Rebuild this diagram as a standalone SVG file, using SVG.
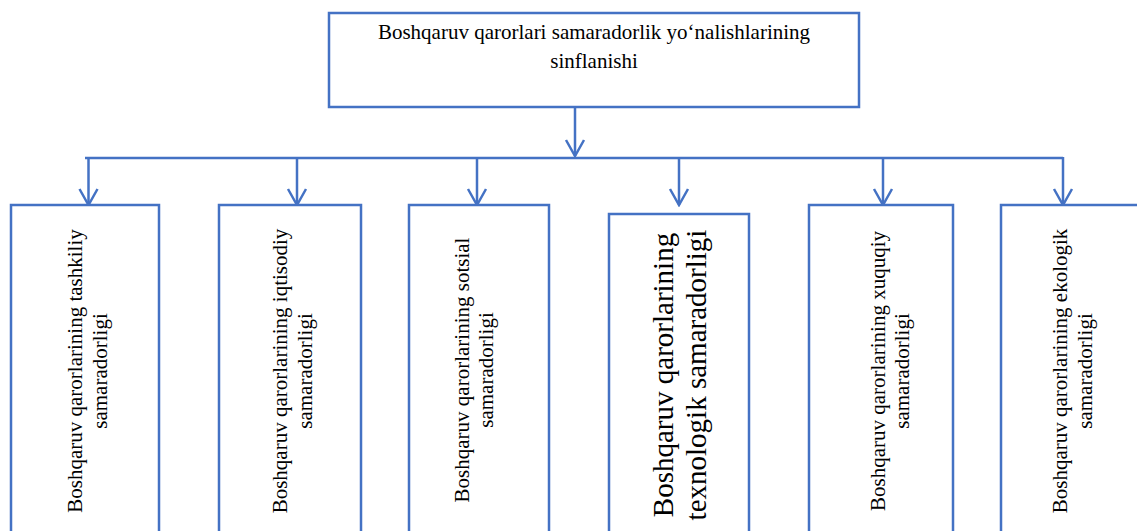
<svg xmlns="http://www.w3.org/2000/svg" width="1137" height="531" viewBox="0 0 1137 531">
<style>
.box{fill:#fff;stroke:#4472C4;stroke-width:2.5}
.ln{fill:none;stroke:#4472C4;stroke-width:2.5}
.t{font-family:"Liberation Serif","Times New Roman",serif;fill:#000;text-anchor:middle}
.s{font-size:21px}
.b{font-size:29px}
</style>
<defs>
<marker id="arr" viewBox="-18 -11 20 22" refX="0" refY="0" markerWidth="20" markerHeight="22" markerUnits="userSpaceOnUse" orient="auto">
<path d="M-16,-9 L0,0 L-16,9" fill="none" stroke="#4472C4" stroke-width="2.5"/>
</marker>
</defs>
<rect width="1137" height="531" fill="#fff"/>
<g id="root">
<rect class="box" x="329" y="13" width="530" height="94"/>
<text class="t s" x="594" y="39">Boshqaruv qarorlari samaradorlik yo‘nalishlarining</text>
<text class="t s" x="594" y="68">sinflanishi</text>
</g>
<g id="connectors">
<line class="ln" x1="575" y1="107" x2="575" y2="156" marker-end="url(#arr)"/>
<polyline class="ln" points="85,158 1063,158"/>
<line class="ln" x1="88.5" y1="158" x2="88.5" y2="205" marker-end="url(#arr)"/>
<line class="ln" x1="297" y1="158" x2="297" y2="205" marker-end="url(#arr)"/>
<line class="ln" x1="477" y1="158" x2="477" y2="205" marker-end="url(#arr)"/>
<line class="ln" x1="679" y1="158" x2="679" y2="205" marker-end="url(#arr)"/>
<line class="ln" x1="883" y1="158" x2="883" y2="205" marker-end="url(#arr)"/>
<line class="ln" x1="1063" y1="157" x2="1063" y2="205" marker-end="url(#arr)"/>
</g>
<g id="n1">
<rect class="box" x="11" y="205" width="148" height="340"/>
<g transform="translate(82,371) rotate(-90)">
<text class="t s" x="0" y="0">Boshqaruv qarorlarining tashkiliy</text>
<text class="t s" x="0" y="25">samaradorligi</text>
</g>
</g>
<g id="n2">
<rect class="box" x="219" y="205" width="142" height="340"/>
<g transform="translate(287,371) rotate(-90)">
<text class="t s" x="0" y="0">Boshqaruv qarorlarining iqtisodiy</text>
<text class="t s" x="0" y="25">samaradorligi</text>
</g>
</g>
<g id="n3">
<rect class="box" x="409" y="205" width="140" height="340"/>
<g transform="translate(469,370) rotate(-90)">
<text class="t s" x="0" y="0">Boshqaruv qarorlarining sotsial</text>
<text class="t s" x="0" y="24">samaradorligi</text>
</g>
</g>
<g id="n4">
<rect class="box" x="609" y="214" width="140" height="331"/>
<g transform="translate(673,375) rotate(-90)">
<text class="t b" x="0" y="0">Boshqaruv qarorlarining</text>
<text class="t b" x="0" y="33">texnologik samaradorligi</text>
</g>
</g>
<g id="n5">
<rect class="box" x="809" y="205" width="144" height="340"/>
<g transform="translate(885,371) rotate(-90)">
<text class="t s" x="0" y="0">Boshqaruv qarorlarining xuquqiy</text>
<text class="t s" x="0" y="24">samaradorligi</text>
</g>
</g>
<g id="n6">
<rect class="box" x="1001" y="205" width="150" height="340"/>
<g transform="translate(1067,371) rotate(-90)">
<text class="t s" x="0" y="0">Boshqaruv qarorlarining ekologik</text>
<text class="t s" x="0" y="25">samaradorligi</text>
</g>
</g>
</svg>
